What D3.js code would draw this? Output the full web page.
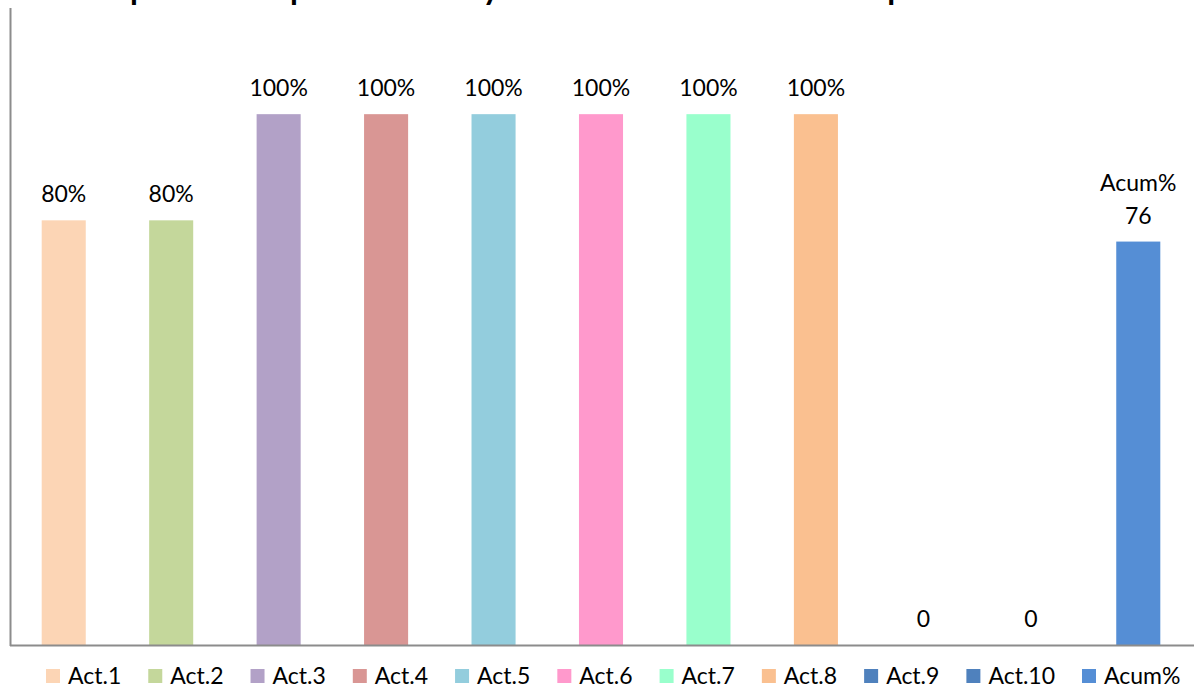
<!DOCTYPE html>
<html>
<head>
<meta charset="utf-8">
<script src="https://cdn.jsdelivr.net/npm/d3@7"></script>
<style>
  html, body { margin: 0; padding: 0; background: #fff; }
  svg { display: block; }
  text { font-family: Lato, "Open Sans", sans-serif; fill: #000; }
</style>
</head>
<body>
<svg id="chart" width="1194" height="689"></svg>
<script>
// ---- data ----
const titleText = "Avance porcentual por actividad y avance acumulado del cumplimiento";
const categories = ["Act.1", "Act.2", "Act.3", "Act.4", "Act.5", "Act.6", "Act.7", "Act.8", "Act.9", "Act.10", "Acum%"];
const values = [80, 80, 100, 100, 100, 100, 100, 100, 0, 0, 76];
const labelLines = [["80%"], ["80%"], ["100%"], ["100%"], ["100%"], ["100%"], ["100%"], ["100%"], ["0"], ["0"], ["Acum%", "76"]];
const colors = ["#FCD5B5", "#C4D79B", "#B2A1C7", "#D99694", "#93CDDD", "#FF99CC", "#99FFCC", "#FAC090", "#4F81BD", "#4F81BD", "#558ED5"];

// ---- layout ----
const W = 1194, H = 689;
const plot = { left: 10, right: 1192, top: 8, bottom: 645 };
const svg = d3.select("#chart");

const x = d3.scaleBand().domain(categories).range([plot.left, plot.right])
  .paddingInner(0.59).paddingOuter(0.295);
const y = d3.scaleLinear().domain([0, 120]).range([plot.bottom, plot.top]);
const color = d3.scaleOrdinal().domain(categories).range(colors);

// title (mostly cut off above the top of the frame)
svg.append("text")
  .attr("x", 520).attr("y", 0)
  .attr("text-anchor", "middle")
  .style("font-size", "32px").style("font-weight", "bold")
  .text(titleText);

// bars
svg.append("g").selectAll("rect")
  .data(categories)
  .join("rect")
  .attr("x", d => x(d))
  .attr("width", x.bandwidth())
  .attr("y", (d, i) => y(values[i]))
  .attr("height", (d, i) => y(0) - y(values[i]))
  .attr("fill", d => color(d));

// axes
const axisColor = "#8c8c8c";
svg.append("line").attr("x1", plot.left + 0.5).attr("x2", plot.left + 0.5)
  .attr("y1", plot.top).attr("y2", plot.bottom + 1)
  .attr("stroke", axisColor).attr("stroke-width", 2);
svg.append("line").attr("x1", plot.left).attr("x2", W)
  .attr("y1", plot.bottom + 0.5).attr("y2", plot.bottom + 0.5)
  .attr("stroke", axisColor).attr("stroke-width", 2);

// data labels
const lab = svg.append("g").selectAll("text")
  .data(categories)
  .join("text")
  .attr("text-anchor", "middle")
  .style("font-size", "23px")
  .attr("x", d => x(d) + x.bandwidth() / 2)
  .attr("y", (d, i) => y(values[i]) - 18);
lab.each(function(d, i) {
  const lines = labelLines[i];
  const t = d3.select(this);
  lines.forEach((ln, j) => {
    t.append("tspan")
      .attr("x", x(d) + x.bandwidth() / 2)
      .attr("dy", j === 0 ? -(lines.length - 1) * 33 : 33)
      .text(ln);
  });
});

// legend
const legend = svg.append("g");
let lx = 46;
categories.forEach((c, i) => {
  const g = legend.append("g");
  g.append("rect").attr("x", lx).attr("y", 669).attr("width", 14).attr("height", 14)
    .attr("fill", color(c));
  const t = g.append("text").attr("x", lx + 22).attr("y", 684)
    .style("font-size", "23px").text(c);
  const w = t.node().getComputedTextLength();
  lx = lx + 22 + w + 27;
});
</script>
</body>
</html>
